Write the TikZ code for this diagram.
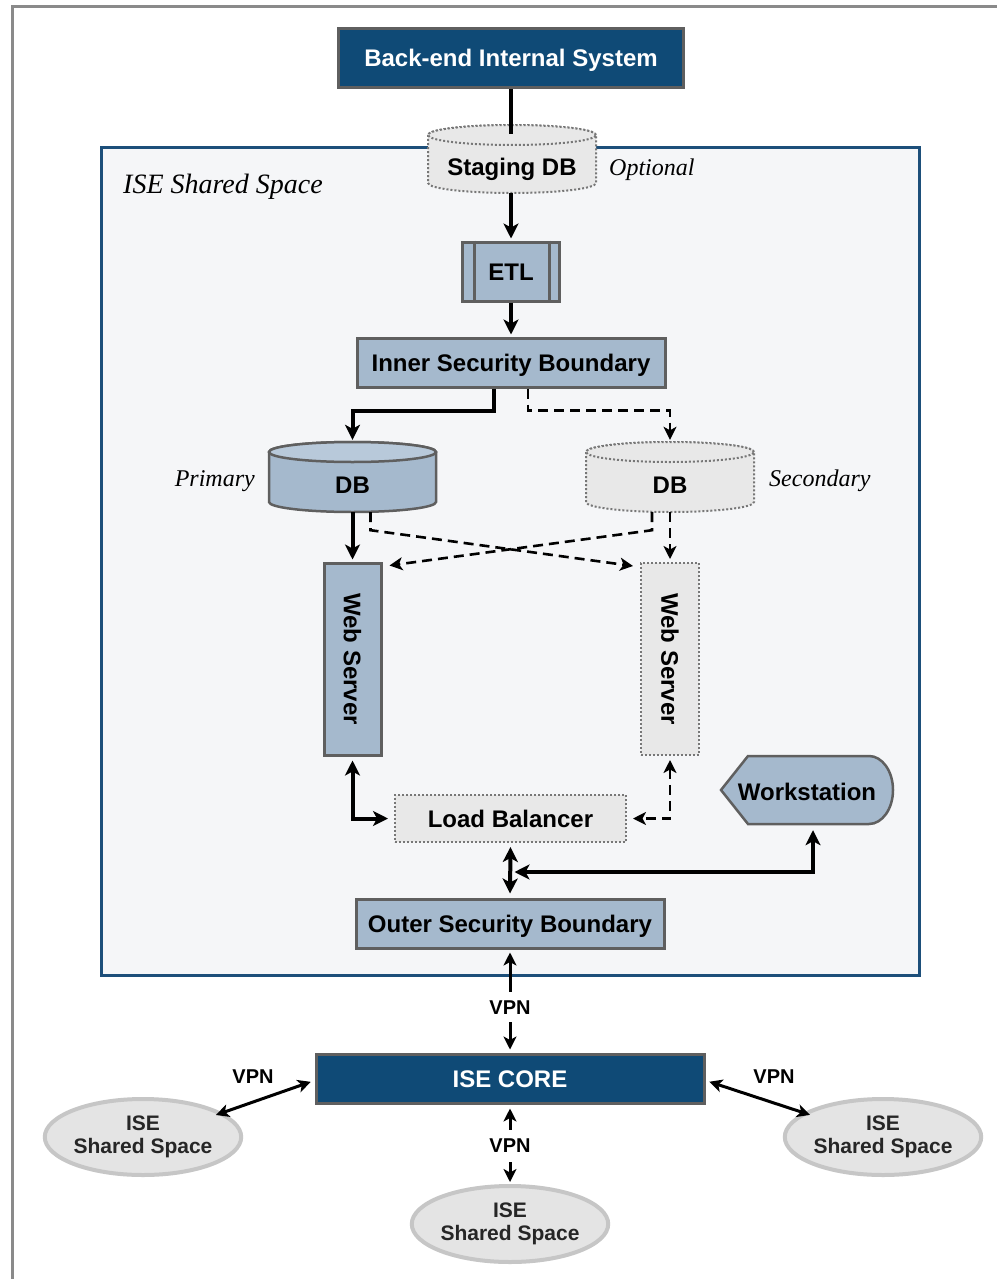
\documentclass[tikz,border=0pt]{standalone}
\usepackage{fontspec}
\usepackage{graphicx}
\setsansfont{Liberation Sans}
\newfontfamily\labelserif{Liberation Serif}
\usetikzlibrary{arrows.meta,shapes.geometric,calc}

\definecolor{navy}{HTML}{0F4A76}
\definecolor{steel}{HTML}{A5B9CD}
\definecolor{steeltop}{HTML}{B8C9DA}
\definecolor{boxedge}{HTML}{5F5F5F}
\definecolor{zoneedge}{HTML}{1D4F7A}
\definecolor{zonefill}{HTML}{F5F6F8}
\definecolor{pale}{HTML}{E8E8E8}
\definecolor{dotedge}{HTML}{777777}
\definecolor{sitefill}{HTML}{E4E4E4}
\definecolor{siteedge}{HTML}{C6C6C6}
\definecolor{frameedge}{HTML}{8A8A8A}

% drum: style, top style, centre x, top-ellipse y, bottom-ellipse y, x radius
\newcommand\dbdrum[6]{%
  \path[#1] (#3-#6,#4) -- (#3-#6,#5)
    arc[start angle=180,end angle=360,x radius=#6,y radius=10]
    -- (#3+#6,#4)
    arc[start angle=0,end angle=180,x radius=#6,y radius=10] -- cycle;
  \path[#1,#2] (#3,#4) ellipse[x radius=#6,y radius=10];}

\tikzset{
  base/.style={inner sep=0pt, font=\sffamily\bfseries\fontsize{24}{28}\selectfont},
  caps/.style={base, text height=17pt, text depth=0pt},
  navybox/.style={caps, rectangle, fill=navy, draw=boxedge, line width=3pt, text=white},
  bluebox/.style={caps, rectangle, fill=steel, draw=boxedge, line width=3pt},
  greybox/.style={caps, rectangle, fill=pale, draw=dotedge, line width=2pt, dash pattern=on 2pt off 2pt},
  spot/.style={caps, rectangle},
  tip/.tip={Stealth[length=15pt,width=15pt,inset=4pt]},
  smalltip/.tip={Stealth[length=13pt,width=13pt,inset=3.5pt]},
  arr/.style={line width=4pt, -tip},
  darr/.style={line width=2.6pt, -smalltip, dash pattern=on 10pt off 6pt},
  twoway/.style={line width=4pt, tip-tip},
  dtwoway/.style={line width=2.6pt, smalltip-smalltip, dash pattern=on 10pt off 6pt},
  thin2way/.style={line width=3pt, smalltip-smalltip},
  note/.style={inner sep=0pt, font=\labelserif\itshape\fontsize{24}{27}\selectfont},
  vpn/.style={inner sep=0pt, font=\sffamily\bfseries\fontsize{20}{22}\selectfont},
  site/.style={ellipse, fill=sitefill, draw=siteedge, line width=4pt,
    minimum width=192pt, minimum height=76pt, inner sep=0pt, align=center,
    text=black!85, font=\sffamily\bfseries\fontsize{21}{23}\selectfont},
  solidcyl/.style={fill=steel, draw=boxedge, line width=2.5pt},
  dotcyl/.style={fill=pale, draw=dotedge, line width=2pt, dash pattern=on 2pt off 2pt},
}

\begin{document}
\begin{tikzpicture}[x=1pt,y=1pt]
\useasboundingbox (0,0) rectangle (997,-1279);
\fill[white] (0,0) rectangle (997,-1279);

% page frame
\draw[frameedge, line width=3pt] (12,-1279) -- (12,-7) -- (997,-7);

% shared space zone
\node[rectangle, draw=zoneedge, fill=zonefill, line width=3pt, inner sep=0pt,
      minimum width=818pt, minimum height=828pt] (zone) at (510,-561) {};
\node[note, anchor=west, font=\labelserif\itshape\fontsize{28}{30}\selectfont] (zonelbl) at (123,-187) {ISE Shared Space};

% databases
\dbdrum{dotcyl}{}{512}{-135}{-183}{84}
\dbdrum{solidcyl}{fill=steeltop}{352.5}{-452}{-502}{83.5}
\dbdrum{dotcyl}{}{670}{-452}{-502}{84}

% nodes
\node[navybox, minimum width=345pt, minimum height=59pt] (back) at (511,-58.5) {Back-end Internal System};
\node[spot, minimum width=168pt, minimum height=68pt] (stg) at (511,-159) {};
\node[caps] (stgtxt) at (512,-167) {Staging DB};
\node[note, anchor=west] (opt) at (609,-170) {Optional};
\coordinate (stgtop) at (511,-134);

\node[bluebox, minimum width=97pt, minimum height=59pt] (etl) at (511,-271.5) {ETL};
\draw[boxedge, line width=3pt] ([xshift=13pt]etl.north west) -- ([xshift=13pt]etl.south west)
  ([xshift=-12pt]etl.north east) -- ([xshift=-12pt]etl.south east);

\node[bluebox, minimum width=308pt, minimum height=49pt] (isb) at (511,-362.5) {Inner Security Boundary};

\node[spot, minimum width=167pt, minimum height=70pt] (pdb) at (352.5,-477) {};
\node[spot, minimum width=168pt, minimum height=70pt] (sdb) at (670,-477) {};
\node[caps] (pdbtxt) at (352.5,-485) {DB};
\node[caps] (sdbtxt) at (670,-485) {DB};
\node[note, anchor=east] (prim) at (255,-481) {Primary};
\node[note, anchor=west] (sec) at (769,-481) {Secondary};

\node[base, rectangle, fill=steel, draw=boxedge, line width=3pt,
      minimum width=57pt, minimum height=192pt] (webL) at (352.5,-659) {\rotatebox{-90}{Web Server}};
\node[base, rectangle, fill=pale, draw=dotedge, line width=2pt, dash pattern=on 2pt off 2pt,
      minimum width=58pt, minimum height=192pt] (webR) at (670,-659) {\rotatebox{-90}{Web Server}};

\node[greybox, minimum width=231pt, minimum height=47pt] (lb) at (510.5,-818.5) {Load Balancer};

\path[fill=steel, draw=boxedge, line width=2.5pt]
  (721,-790) -- (748,-756) -- (869,-756)
  arc[start angle=90, end angle=-90, x radius=24, y radius=34]
  -- (748,-824) -- cycle;
\node[spot, minimum width=172pt, minimum height=68pt] (ws) at (807,-792) {Workstation};

\node[bluebox, minimum width=308pt, minimum height=49pt] (osb) at (510,-923.5) {Outer Security Boundary};

\node[navybox, minimum width=388pt, minimum height=49pt] (core) at (510,-1078.5) {ISE CORE};

\node[site] (ellL) at (143,-1137) {ISE\\Shared Space};
\node[site] (ellR) at (883,-1137) {ISE\\Shared Space};
\node[site] (ellB) at (510,-1224) {ISE\\Shared Space};

% connectors
\draw[line width=4pt] (back.south) -- (stgtop);
\draw[arr, shorten >=2pt] (stg.south) -- (etl.north);
\draw[arr, shorten >=2pt] (etl.south) -- (isb.north);

\draw[arr, shorten >=2pt] ([xshift=-17pt]isb.south) -- ++(0,-22) -| (pdb.north);
\draw[darr, shorten >=2pt] ([xshift=17pt]isb.south) -- ++(0,-22) -| (sdb.north);

\draw[arr, shorten >=2pt] (pdb.south) -- (webL.north);
\draw[darr, shorten >=3pt] (sdb.south) -- (webR.north);
\draw[darr] ([xshift=18pt]pdb.south) -- ++(0,-18) -- ([shift={(-7pt,-4pt)}]webR.north west);
\draw[darr] ([xshift=-18pt]sdb.south) -- ++(0,-18) -- ([shift={(7pt,-4pt)}]webL.north east);

\draw[twoway, shorten <=4pt, shorten >=6pt] (webL.south) |- (lb.west);
\draw[dtwoway, shorten <=4pt, shorten >=6pt] (webR.south) |- (lb.east);

\coordinate (jn) at (510.5,-872);
\draw[twoway, shorten <=4pt, shorten >=4pt] (lb.south) -- (osb.north);
\draw[twoway, shorten <=4pt] ([xshift=6pt]ws.south) |- ([xshift=4pt]jn);

\draw[thin2way, shorten <=3pt, shorten >=3pt] (osb.south) --
  node[vpn, fill=white, minimum height=30pt, pos=0.56] (vpnT) {VPN} (core.north);
\draw[thin2way, shorten <=4pt, shorten >=2pt] (core.south) --
  node[vpn, fill=white, minimum height=32pt, pos=0.52] (vpnB) {VPN} (ellB.north);
\draw[thin2way, shorten <=4pt, shorten >=-7pt] ([yshift=-2pt]core.west) -- (ellL.17);
\draw[thin2way, shorten <=4pt, shorten >=-7pt] ([yshift=-2pt]core.east) -- (ellR.163);
\node[vpn] (vpnL) at (253,-1077) {VPN};
\node[vpn] (vpnR) at (774,-1077) {VPN};
\end{tikzpicture}
\end{document}
